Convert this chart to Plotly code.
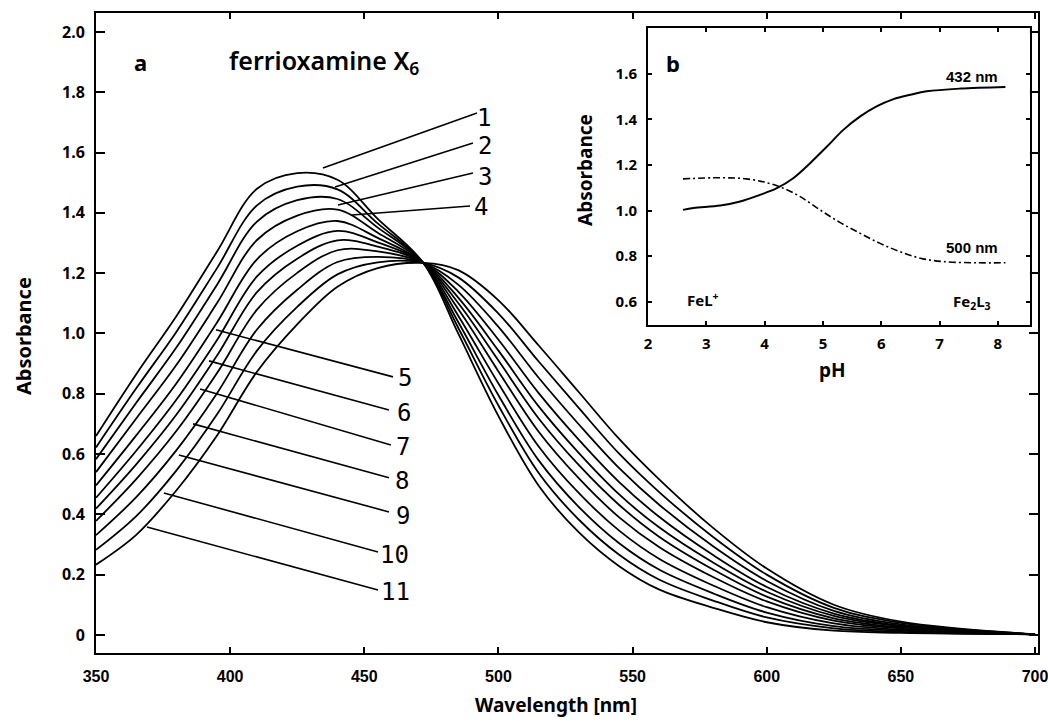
import plotly.graph_objects as go

# ---------------- data: panel a (absorption spectra) ----------------
wavelength = [350, 365, 380, 395, 410, 425, 440, 455, 472, 485, 500, 515, 530, 545, 560, 580, 600, 625, 650, 700]

curve_1 = [0.660, 0.865, 1.058, 1.270, 1.480, 1.532, 1.510, 1.380, 1.234, 1.000, 0.726, 0.495, 0.340, 0.228, 0.150, 0.090, 0.042, 0.014, 0.007, 0.002]
curve_2 = [0.622, 0.818, 1.006, 1.215, 1.425, 1.487, 1.478, 1.365, 1.234, 1.019, 0.761, 0.537, 0.382, 0.266, 0.183, 0.114, 0.058, 0.022, 0.010, 0.002]
curve_3 = [0.583, 0.770, 0.954, 1.160, 1.371, 1.442, 1.446, 1.351, 1.234, 1.038, 0.795, 0.579, 0.424, 0.304, 0.216, 0.138, 0.074, 0.029, 0.014, 0.002]
curve_4 = [0.540, 0.718, 0.896, 1.099, 1.310, 1.391, 1.411, 1.334, 1.234, 1.059, 0.834, 0.625, 0.470, 0.346, 0.252, 0.164, 0.092, 0.038, 0.017, 0.002]
curve_5 = [0.496, 0.662, 0.835, 1.035, 1.246, 1.339, 1.373, 1.317, 1.234, 1.081, 0.874, 0.674, 0.519, 0.390, 0.291, 0.192, 0.111, 0.047, 0.021, 0.002]
curve_6 = [0.455, 0.611, 0.781, 0.977, 1.189, 1.291, 1.340, 1.302, 1.234, 1.101, 0.910, 0.718, 0.563, 0.431, 0.325, 0.217, 0.127, 0.055, 0.025, 0.002]
curve_7 = [0.419, 0.566, 0.731, 0.925, 1.137, 1.248, 1.309, 1.288, 1.234, 1.119, 0.943, 0.758, 0.603, 0.466, 0.356, 0.240, 0.143, 0.063, 0.028, 0.002]
curve_8 = [0.378, 0.517, 0.677, 0.867, 1.079, 1.201, 1.276, 1.272, 1.234, 1.139, 0.979, 0.802, 0.647, 0.507, 0.391, 0.265, 0.159, 0.071, 0.031, 0.002]
curve_9 = [0.331, 0.457, 0.613, 0.800, 1.013, 1.145, 1.237, 1.254, 1.234, 1.162, 1.022, 0.853, 0.698, 0.553, 0.431, 0.294, 0.179, 0.080, 0.035, 0.002]
curve_10 = [0.282, 0.394, 0.546, 0.730, 0.943, 1.088, 1.196, 1.236, 1.234, 1.186, 1.066, 0.907, 0.752, 0.601, 0.473, 0.325, 0.200, 0.090, 0.040, 0.002]
curve_11 = [0.233, 0.332, 0.480, 0.660, 0.873, 1.030, 1.155, 1.217, 1.234, 1.210, 1.110, 0.960, 0.805, 0.650, 0.515, 0.355, 0.220, 0.100, 0.044, 0.002]

spectra = [curve_1, curve_2, curve_3, curve_4, curve_5, curve_6,
           curve_7, curve_8, curve_9, curve_10, curve_11]
curve_labels = ["1", "2", "3", "4", "5", "6", "7", "8", "9", "10", "11"]

x_ticks = [350, 400, 450, 500, 550, 600, 650, 700]
y_ticks = [0, 0.2, 0.4, 0.6, 0.8, 1.0, 1.2, 1.4, 1.6, 1.8, 2.0]
y_tick_text = ["0", "0.2", "0.4", "0.6", "0.8", "1.0", "1.2", "1.4", "1.6", "1.8", "2.0"]

# ---------------- data: panel b (pH dependence) ----------------
ph_432 = [2.60, 2.78, 3.24, 3.58, 3.92, 4.21, 4.49, 4.78, 5.07, 5.35, 5.64, 5.92, 6.21, 6.50, 6.78, 7.35, 8.13]
abs_432 = [1.003, 1.011, 1.022, 1.040, 1.069, 1.098, 1.142, 1.208, 1.281, 1.354, 1.413, 1.457, 1.489, 1.508, 1.523, 1.535, 1.542]
ph_500 = [2.60, 3.24, 3.69, 4.04, 4.32, 4.61, 4.95, 5.29, 5.64, 5.98, 6.32, 6.67, 7.07, 7.64, 8.13]
abs_500 = [1.139, 1.144, 1.139, 1.122, 1.098, 1.061, 1.003, 0.948, 0.900, 0.856, 0.820, 0.791, 0.776, 0.771, 0.771]

ph_ticks = [2, 3, 4, 5, 6, 7, 8]
inset_y_ticks = [0.6, 0.8, 1.0, 1.2, 1.4, 1.6]

# ---------------- layout constants ----------------
# leader lines (start near curve, end near label) and label anchors, in data units
leader_start = [(434.6, 1.549), (439.1, 1.486), (440.2, 1.426), (445.4, 1.393),
                (394.7, 1.012), (392.1, 0.909), (388.8, 0.816), (386.2, 0.700),
                (380.9, 0.597), (375.3, 0.471), (369.0, 0.358)]
leader_end = [(492.0, 1.731), (490.5, 1.632), (490.5, 1.532), (489.4, 1.423),
              (460.7, 0.856), (459.2, 0.746), (459.9, 0.630), (459.2, 0.521),
              (459.2, 0.408), (455.1, 0.275), (455.1, 0.149)]
label_pos = [(494.6, 1.715), (495.0, 1.622), (495.0, 1.519), (493.5, 1.420),
             (465.2, 0.852), (464.8, 0.736), (464.4, 0.624), (464.0, 0.511),
             (464.4, 0.395), (461.4, 0.265), (461.8, 0.143)]

BOLD = "Noto Sans"
NARROW = "Liberation Sans Narrow, Liberation Sans, Arial Narrow"
MONO = "DejaVu Sans Mono"

# plot area in window pixels: x 96..1038, y 13..653
W, H = 1048, 726
PLOT_L, PLOT_R, PLOT_T, PLOT_B = 96, 1038, 13, 653


def px_to_paper(px, py):
    return (px - PLOT_L) / (PLOT_R - PLOT_L), (PLOT_B - py) / (PLOT_B - PLOT_T)


fig = go.Figure()

for ys in spectra:
    fig.add_trace(go.Scatter(x=wavelength, y=ys, mode="lines",
                             line=dict(color="black", width=1.8, shape="spline", smoothing=1.0),
                             showlegend=False, hoverinfo="skip", xaxis="x", yaxis="y"))

fig.add_trace(go.Scatter(x=ph_432, y=abs_432, mode="lines",
                         line=dict(color="black", width=2, shape="spline", smoothing=1.0),
                         showlegend=False, hoverinfo="skip", xaxis="x2", yaxis="y2"))
fig.add_trace(go.Scatter(x=ph_500, y=abs_500, mode="lines",
                         line=dict(color="black", width=1.6, shape="spline", smoothing=1.0,
                                   dash="7px,3px,2px,3px"),
                         showlegend=False, hoverinfo="skip", xaxis="x2", yaxis="y2"))

shapes = []
for (x0, y0), (x1, y1) in zip(leader_start, leader_end):
    shapes.append(dict(type="line", xref="x", yref="y", x0=x0, y0=y0, x1=x1, y1=y1,
                       line=dict(color="black", width=1.6)))

annotations = []
for lab, (lx, ly) in zip(curve_labels, label_pos):
    annotations.append(dict(text=lab, x=lx, y=ly, xref="x", yref="y", showarrow=False,
                            xanchor="center", yanchor="middle",
                            font=dict(family=MONO, size=24, color="black")))


def paper_text(text, px, py, size, family=BOLD, angle=0, xanchor="center", weight="bold"):
    x, y = px_to_paper(px, py)
    annotations.append(dict(text=text, x=x, y=y, xref="paper", yref="paper",
                            showarrow=False, textangle=angle, xanchor=xanchor, yanchor="middle",
                            font=dict(family=family, size=size, color="black", weight=weight)))


paper_text("a", 140, 62, 22)
paper_text("ferrioxamine X<sub>6</sub>", 227, 62, 25, xanchor="left", weight=600)
paper_text("Wavelength [nm]", 556, 705, 19)
paper_text("Absorbance", 23, 336, 20, angle=-90)
paper_text("Absorbance", 585, 170, 19, angle=-90)
paper_text("pH", 832, 370, 19)

inset_texts = [("b", 2.43, 1.648, 22, BOLD),
               ("432 nm", 7.56, 1.586, 15, NARROW),
               ("500 nm", 7.56, 0.840, 15, NARROW),
               ("FeL<sup>+</sup>", 2.95, 0.608, 15, BOLD),
               ("Fe<sub>2</sub>L<sub>3</sub>", 7.56, 0.599, 15, BOLD)]
for t, x, y, s, fam in inset_texts:
    annotations.append(dict(text=t, x=x, y=y, xref="x2", yref="y2", showarrow=False,
                            xanchor="center", yanchor="middle",
                            font=dict(family=fam, size=s, color="black", weight="bold")))

axis_common = dict(showline=True, linecolor="black", linewidth=2, mirror="ticks",
                   tickwidth=2, tickcolor="black", showgrid=False, zeroline=False,
                   automargin=False, ticks="inside")

fig.update_layout(
    width=W, height=H,
    margin=dict(l=PLOT_L, r=W - PLOT_R, t=PLOT_T, b=H - PLOT_B, autoexpand=False),
    paper_bgcolor="white", plot_bgcolor="white",
    showlegend=False,
    shapes=shapes, annotations=annotations,
    xaxis=dict(range=[350, 701.1], domain=[0, 1], tickvals=x_ticks,
               ticklen=6, ticklabelstandoff=8, ticklabeloverflow="allow",
               tickfont=dict(family=NARROW, size=16, color="black", weight="bold"),
               **axis_common),
    yaxis=dict(range=[-0.06, 2.063], domain=[0, 1], tickvals=y_ticks, ticktext=y_tick_text,
               ticklen=9, ticklabelstandoff=6,
               tickfont=dict(family=BOLD, size=16, color="black", weight="bold"),
               **axis_common),
    xaxis2=dict(range=[2.0, 8.55], domain=[0.586, 0.9914], anchor="y2", tickvals=ph_ticks,
                ticklen=4, ticklabelstandoff=4,
                tickfont=dict(family=BOLD, size=15, color="black", weight="bold"),
                **axis_common),
    yaxis2=dict(range=[0.498, 1.801], domain=[0.5125, 0.9766], anchor="x2", tickvals=inset_y_ticks,
                tickformat=".1f", ticklen=4, ticklabelstandoff=6,
                tickfont=dict(family=BOLD, size=15, color="black", weight="bold"),
                **axis_common),
)

# remove the default page margin so the 1048x726 figure fills the window exactly
fig.write_html("out.html",
               config={"displayModeBar": False},
               post_script="document.body.style.margin='0px';"
                           "document.documentElement.style.overflow='hidden';")
